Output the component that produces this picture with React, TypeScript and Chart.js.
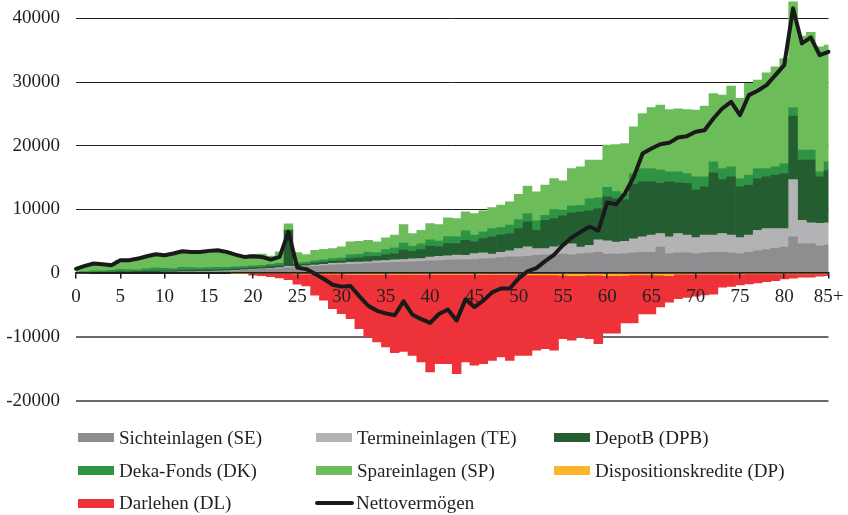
import React, { useEffect, useRef } from 'react';
import { Chart, registerables } from 'chart.js';

Chart.register(...registerables);

// ---- categories (age) ----
const AGES: string[] = Array.from({ length: 85 }, (_, i) => String(i)).concat(['85+']);

// ---- y axis tick labels ----
const Y_TICKS = [-20000, -10000, 0, 10000, 20000, 30000, 40000];

// ---- series (EUR) ----
const SE = [
  50, 60, 70, 80, 90, 100, 110, 120, 130, 140, 150, 160, 180, 200, 220, 250, 280, 320, 380, 450,
  520, 600, 680, 750, 850,
  900, 1000, 1100, 1200, 1300, 1350, 1400, 1450, 1500, 1600, 1650, 1700, 1750, 1800, 1850, 1950, 2000, 2050, 2100,
  2140, 2140, 2250, 2300, 2460, 2560, 2560, 2670, 2830, 2880, 2880, 3000, 2900, 3050, 3150, 3300,
  3000, 3000, 3100, 3200, 3300, 3300, 4100, 3100, 3200, 3200, 3100, 3200, 3300, 3300, 3200, 3100,
  3300, 3500, 3700, 3900, 4100, 5700, 4660, 4660, 4250, 4400,
];
const TE = [
  0, 0, 10, 10, 10, 10, 10, 20, 20, 20, 20, 30, 30, 30, 40, 40, 50, 50, 60, 70,
  80, 90, 100, 120, 250,
  150, 150, 200, 200, 250, 250, 300, 300, 300, 350, 350, 400, 400, 450, 450, 600, 650, 700, 750,
  690, 950, 940, 690, 840, 950, 1310, 1460, 1040, 990, 1250, 1310, 1720, 1040, 1210, 1940,
  2100, 1900, 1900, 2200, 2400, 2670, 2130, 2600, 3030, 2770, 2500, 2770, 2670, 2930, 2770, 2500,
  2670, 3250, 3310, 3110, 2910, 9000, 3660, 3240, 3600, 3500,
];
const DPB = [
  50, 50, 80, 100, 100, 150, 150, 150, 200, 200, 200, 200, 250, 250, 250, 250, 250, 250, 250, 250,
  250, 250, 300, 350, 5600,
  300, 250, 300, 350, 350, 400, 600, 650, 800, 700, 900, 1000, 1500, 1200, 1400, 1700, 1500, 1900, 1800,
  2350, 1830, 2250, 2710, 2670, 2720, 3140, 3930, 2880, 4450, 4450, 4700, 4820, 5500, 5490, 4860,
  6900, 6800, 6500, 8600, 8640, 8370, 7870, 8640, 7970, 8130, 7430, 7580, 9780, 8470, 9150, 7950,
  7830, 8110, 8110, 8380, 8640, 9950, 9420, 9840, 7270, 8160,
];
const DK = [
  100, 150, 200, 200, 250, 350, 300, 300, 400, 500, 400, 350, 450, 400, 350, 350, 350, 300, 300, 300,
  300, 300, 300, 350, 100,
  300, 300, 350, 350, 400, 400, 600, 550, 700, 600, 800, 900, 1100, 800, 900, 1000, 900, 1100, 1050,
  1470, 1050, 1050, 1310, 1200, 1310, 1410, 1310, 1460, 780, 1410, 900, 1150, 1050, 1830, 1730,
  1500, 1100, 1000, 1600, 2090, 2090, 2070, 1560, 1700, 1550, 2090, 1570, 1730, 1730, 1580, 1310,
  1590, 1570, 1310, 1310, 1570, 1360, 1570, 1570, 790, 1420,
];
const SP = [
  530, 890, 1160, 1020, 810, 1430, 1470, 1710, 1920, 2120, 2060, 2350, 2540, 2470, 2490, 2620, 2680, 2430, 1940, 1490,
  1820, 1760, 1320, 1790, 940,
  1600, 1230, 1660, 1670, 1570, 1730, 2020, 2070, 1880, 1670, 1850, 1970, 2890, 1980, 2150, 2550, 2590, 2940, 2880,
  2980, 3400, 3300, 3300, 3510, 3660, 3980, 4290, 4560, 4720, 4880, 4590, 5840, 6050, 6060, 5910,
  6600, 7400, 7860, 7370, 8640, 9580, 10210, 9800, 9900, 10050, 10470, 11100, 10730, 11520, 12660, 12570,
  14390, 13870, 15020, 15700, 16480, 16590, 17900, 18480, 19620, 18320,
];
const DP = [
  0, 0, 0, 0, 0, 0, 0, 0, 0, 0, 0, 0, 0, 0, 0, 0, 0, 0, -30, -30,
  -80, -80, -80, -80, -80,
  -150, -150, -150, -150, -150, -150, -200, -200, -200, -200, -200, -200, -200, -200, -200, -200, -200, -200, -200,
  -200, -200, -200, -200, -200, -200, -200, -250, -250, -250, -250, -300, -400, -400, -300, -300,
  -400, -400, -350, -250, -250, -250, -300, -400, -150, -150, -150, -150, -150, -150, -150, -150,
  -100, -100, -100, -100, -100, -100, -100, -100, -100, -100,
];
const DL = [
  0, 0, 0, 0, 0, 0, 0, 0, 0, 0, 0, 0, 0, 0, 0, 0, 0, 0, 0, 0,
  -220, -320, -470, -670, -920,
  -1550, -1850, -3300, -4090, -5400, -6180, -6920, -8490, -9800, -10580, -11370, -12260, -12050, -12680, -13720, -15290, -13980, -13980, -15550,
  -13720, -14240, -13980, -13460, -12940, -13460, -12680, -12630, -11840, -11580, -11840, -9960, -10120, -9600, -9960, -10750,
  -9000, -9000, -7450, -7550, -6150, -6150, -5000, -4150, -3850, -3650, -3450, -3250, -3150, -2050, -1900, -1680,
  -1580, -1420, -1210, -1050, -790, -680, -530, -530, -370, -270,
];
const NET = [
  700, 1150, 1520, 1410, 1260, 2040, 2040, 2300, 2670, 2980, 2830, 3090, 3450, 3350, 3350, 3510, 3610, 3350, 2930, 2560,
  2670, 2560, 2140, 2560, 6490,
  880, 650, -100, -900, -1800, -2100, -2000, -3600, -5100, -5900, -6300, -6600, -4400, -6500, -7200, -7800, -6400, -5700, -7400,
  -4100, -5300, -4300, -3000, -2400, -2400, -800, 300, 800, 1900, 2900, 4400, 5600, 6500, 7300, 6700,
  11100, 10800, 12510, 15120, 18790, 19570, 20250, 20460, 21300, 21510, 22190, 22450, 24280, 25850, 26900, 24800,
  27950, 28630, 29520, 31090, 32660, 41560, 36060, 37000, 34230, 34750,
];

// ---- styles ----
const INK = '#231f20';
const C_SE = '#8e8e91';
const C_TE = '#b3b3b6';
const C_DPB = '#245e30';
const C_DK = '#2e9345';
const C_SP = '#6cbd5a';
const C_DP = '#fbb42b';
const C_DL = '#ee3239';
const C_NET = '#1a1a1a';
const FONT = "'Liberation Serif', 'Times New Roman', Times, serif";

const LEGEND = [
  { label: 'Sichteinlagen (SE)', color: C_SE, col: 0, row: 0 },
  { label: 'Termineinlagen (TE)', color: C_TE, col: 1, row: 0 },
  { label: 'DepotB (DPB)', color: C_DPB, col: 2, row: 0 },
  { label: 'Deka-Fonds (DK)', color: C_DK, col: 0, row: 1 },
  { label: 'Spareinlagen (SP)', color: C_SP, col: 1, row: 1 },
  { label: 'Dispositionskredite (DP)', color: C_DP, col: 2, row: 1 },
  { label: 'Darlehen (DL)', color: C_DL, col: 0, row: 2 },
  { label: 'Nettovermögen', color: C_NET, col: 1, row: 2, line: true },
];
const COL_X = [78, 316, 554];
const ROW_Y = [437.5, 470.5, 503];

export default function App() {
  const ref = useRef<HTMLCanvasElement | null>(null);

  useEffect(() => {
    if (!ref.current) return;
    const bar = (label: string, data: number[], color: string) => ({
      type: 'bar' as const,
      label,
      data,
      backgroundColor: color,
      borderWidth: 0,
      barPercentage: 1,
      categoryPercentage: 1,
      stack: 'assets',
      order: 1,
      clip: 0,
    });
    const chart = new Chart(ref.current, {
      type: 'bar',
      data: {
        labels: AGES,
        datasets: [
          bar('Sichteinlagen (SE)', SE, C_SE),
          bar('Termineinlagen (TE)', TE, C_TE),
          bar('DepotB (DPB)', DPB, C_DPB),
          bar('Deka-Fonds (DK)', DK, C_DK),
          bar('Spareinlagen (SP)', SP, C_SP),
          bar('Dispositionskredite (DP)', DP, C_DP),
          bar('Darlehen (DL)', DL, C_DL),
          {
            type: 'line' as const,
            label: 'Nettovermögen',
            data: NET,
            borderColor: C_NET,
            backgroundColor: C_NET,
            borderWidth: 4,
            pointRadius: 0,
            tension: 0,
            fill: false,
            stack: 'net',
            order: 0,
            borderJoinStyle: 'round',
            borderCapStyle: 'round',
            clip: false,
          } as any,
        ],
      },
      options: {
        responsive: false,
        animation: false,
        layout: { padding: { left: 0, right: 19.5, top: 0, bottom: 114.3 } },
        plugins: { legend: { display: false }, tooltip: { enabled: false } },
        scales: {
          x: {
            type: 'category',
            position: { y: 0 } as any,
            offset: false,
            stacked: true,
            grid: {
              offset: false,
              drawOnChartArea: false,
              drawTicks: true,
              tickLength: 5,
              lineWidth: 1.5,
              color: (c: any) => (c.index % 5 === 0 || c.index === 85 ? INK : 'rgba(0,0,0,0)'),
              z: 1,
            },
            border: { display: true, color: INK, width: 1.5, z: 1 },
            ticks: {
              autoSkip: false,
              maxRotation: 0,
              minRotation: 0,
              padding: 7,
              color: INK,
              font: { family: FONT, size: 19 },
              z: 1,
              callback: (_v: any, i: number) => (i % 5 === 0 || i === 85 ? AGES[i] : ''),
            },
            afterFit: (s: any) => {
              s.height = 0;
              s.paddingLeft = 0;
              s.paddingRight = 0;
            },
          } as any,
          y: {
            stacked: true,
            min: -20000,
            max: 42875,
            afterBuildTicks: (s: any) => {
              s.ticks = Y_TICKS.map((v) => ({ value: v }));
            },
            grid: {
              drawTicks: false,
              color: (c: any) => (c.tick && c.tick.value < 0 ? '#6a6a6a' : '#1e1e1e'),
              lineWidth: (c: any) => (c.tick && c.tick.value < 0 ? 2 : 1),
            },
            border: { display: false },
            ticks: {
              padding: 16,
              color: INK,
              font: { family: FONT, size: 19 },
              callback: (v: any) => String(v),
            },
            afterFit: (s: any) => {
              s.width = 76;
              s.paddingTop = 0;
              s.paddingBottom = 0;
            },
          } as any,
        },
      } as any,
    });
    return () => chart.destroy();
  }, []);

  return (
    <div style={{ position: 'fixed', left: 0, top: 0, width: 848, height: 515, background: '#fff' }}>
      <canvas ref={ref} width={848} height={515} style={{ position: 'absolute', left: 0, top: 0 }} />
      {LEGEND.map((it) => (
        <div
          key={it.label}
          style={{
            position: 'absolute',
            left: it.line ? COL_X[it.col] - 1 : COL_X[it.col],
            top: ROW_Y[it.row] - 12,
            height: 24,
            display: 'flex',
            alignItems: 'center',
            fontFamily: FONT,
            fontSize: 19,
            color: INK,
            whiteSpace: 'nowrap',
          }}
        >
          <div
            style={{
              width: it.line ? 39 : 36,
              height: it.line ? 4 : 9,
              borderRadius: it.line ? 2 : 0,
              background: it.color,
              marginRight: it.line ? 2 : 5,
            }}
          />
          <span style={{ lineHeight: '24px' }}>{it.label}</span>
        </div>
      ))}
    </div>
  );
}
